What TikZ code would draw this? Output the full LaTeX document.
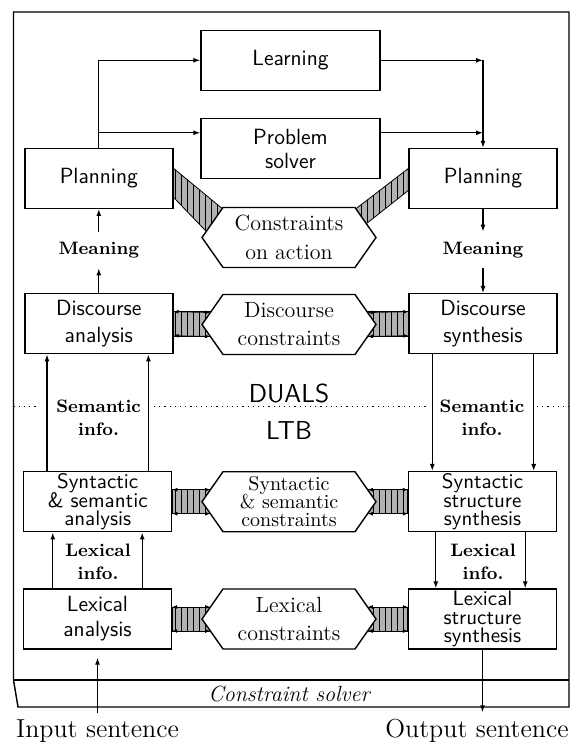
\documentclass[tikz,border=0pt]{standalone}
\usepackage{xcolor}
\usepackage{tikz}
\usetikzlibrary{arrows.meta, positioning, calc, backgrounds, patterns, shapes.symbols}

\newcommand\tightlines{\lineskiplimit=-5pt\relax}

\tikzset{
    module/.style={draw, line width=0.7pt, minimum width=74pt, minimum height=30pt,
          align=center, inner sep=1pt, font=\sffamily\fontsize{11}{13.5}\selectfont},
    constraintbox/.style={draw, line width=0.7pt, fill=white, signal, signal to=west and east,
          signal pointer angle=110, minimum width=87pt, minimum height=30pt,
          align=center, inner sep=1pt, font=\fontsize{11}{14.5}\selectfont},
    flow/.style={-{Latex[length=3.5pt,width=2.5pt]}, line width=0.6pt},
    infolabel/.style={align=center, inner xsep=2pt, inner ysep=5pt,
          font=\bfseries\fontsize{9}{11.5}\selectfont},
    band/.style={preaction={fill=black!30}, pattern=vertical lines, draw, line width=0.4pt},
    bandtip/.style={{Latex[length=2.5pt,width=2pt]}-{Latex[length=2.5pt,width=2pt]}, line width=0.4pt},
}

\begin{document}
\begin{tikzpicture}[x=0.5pt, y=-0.5pt]
    \useasboundingbox (0,0) rectangle (573,742);

    % outer frame with the constraint solver slab
    \draw[line width=0.7pt] (13.5,680) -- (13.5,12) -- (569,12) -- (569,707) -- (18,707) -- cycle;
    \draw[line width=1.2pt] (13.5,680) -- (569,680);
    \node[font=\itshape\fontsize{11}{13}\selectfont] (csolver) at (289,694) {Constraint solver};

    % modules
    \node[module, minimum width=89.5pt] (learning) at (290.5,60.3) {Learning};
    \node[module, minimum width=89.5pt, font=\sffamily\fontsize{11}{12}\selectfont] (solver) at (290.5,148.5) {Problem\\solver};
    \node[module] (planL) at (98.8,178.3) {Planning};
    \node[module] (planR) at (483,178.5) {Planning};
    \node[constraintbox] (action) at (289,237.5) {Constraints\\on action};

    \node[module] (discA) at (98.8,323.7) {Discourse\\analysis};
    \node[constraintbox, font=\fontsize{11}{14}\selectfont] (discC) at (289,324.5) {Discourse\\constraints};
    \node[module] (discS) at (483,323.7) {Discourse\\synthesis};

    \node[module, font={\sffamily\fontsize{10.5}{9.2}\selectfont\tightlines}] (synA) at (97.7,501.7) {Syntactic\\\&~semantic\\analysis};
    \node[constraintbox, font={\fontsize{10}{9}\selectfont\tightlines}] (synC) at (289,501.7) {Syntactic\\\&~semantic\\constraints};
    \node[module, font={\sffamily\fontsize{10.5}{9.2}\selectfont\tightlines}] (synS) at (482.5,501.7) {Syntactic\\structure\\synthesis};

    \node[module, font=\sffamily\fontsize{11}{12.5}\selectfont] (lexA) at (97.5,619) {Lexical\\analysis};
    \node[constraintbox, font=\fontsize{11}{14}\selectfont] (lexC) at (289,619) {Lexical\\constraints};
    \node[module, font={\sffamily\fontsize{10.5}{9.2}\selectfont\tightlines}] (lexS) at (482.5,619) {Lexical\\structure\\synthesis};

    % labels
    \node[infolabel] (meanL) at (98.8,250) {Meaning};
    \node[infolabel] (meanR) at (483,250) {Meaning};
    \node[infolabel, inner ysep=1pt] (semL) at (98.6,418) {Semantic\\info.};
    \node[infolabel, inner ysep=1pt] (semR) at (482,418) {Semantic\\info.};
    \node[infolabel, inner ysep=1pt] (lexL) at (98,562) {Lexical\\info.};
    \node[infolabel, inner ysep=1pt] (lexR) at (483,562) {Lexical\\info.};
    \node[font=\sffamily\fontsize{13}{15}\selectfont] (duals) at (289,393) {DUALS};
    \node[font=\sffamily\fontsize{13}{15}\selectfont] (ltb) at (289,430) {LTB};
    \node[font=\fontsize{13}{15}\selectfont] (input) at (97.5,731) {Input sentence};
    \node[font=\fontsize{13}{15}\selectfont] (output) at (477,731) {Output sentence};

    % DUALS / LTB border
    \draw[dotted, line width=0.6pt] (13.5,406.7) -- (36,406.7);
    \draw[dotted, line width=0.6pt] (154,406.7) -- (428,406.7);
    \draw[dotted, line width=0.6pt] (537,406.7) -- (569,406.7);

    % top loop
    \draw[flow] (planL.north) |- (learning.west);
    \draw[flow] (planL.north) |- ([yshift=-7.5pt]solver.north west);
    \draw[flow] (learning.east) -- (learning.east -| planR.north);
    \draw[flow] ([yshift=-7.5pt]solver.north east) -- ([yshift=-7.5pt]solver.north east -| planR.north);
    \draw[flow] (learning.east -| planR.north) -- (planR.north);

    % meaning
    \draw[flow] (discA.north) -- (meanL);
    \draw[flow] (meanL) -- (planL.south);
    \draw[flow] (planR.south) -- (meanR);
    \draw[flow] (meanR) -- (discS.north);

    % semantic info
    \draw[flow] ([xshift=12pt]synA.north west) -- ([xshift=12pt]synA.north west |- discA.south);
    \draw[flow] ([xshift=-12pt]synA.north east) -- ([xshift=-12pt]synA.north east |- discA.south);
    \draw[flow] ([xshift=12pt]discS.south west) -- ([xshift=12pt]discS.south west |- synS.north);
    \draw[flow] ([xshift=-12pt]discS.south east) -- ([xshift=-12pt]discS.south east |- synS.north);

    % lexical info
    \draw[flow] ([xshift=15pt]lexA.north west) -- ([xshift=15pt]lexA.north west |- synA.south);
    \draw[flow] ([xshift=-15pt]lexA.north east) -- ([xshift=-15pt]lexA.north east |- synA.south);
    \draw[flow] ([xshift=14pt]synS.south west) -- ([xshift=14pt]synS.south west |- lexS.north);
    \draw[flow] ([xshift=-16pt]synS.south east) -- ([xshift=-16pt]synS.south east |- lexS.north);

    % sentences in and out
    \draw[flow, shorten >=4pt] (input.north) -- (lexA.south);
    \draw[flow] (lexS.south) -- (lexS.south |- output.north);

    % striped constraint links
    \begin{scope}[on background layer]
        \draw[band] ([shift={(0,-10)}]planL.east) -- ([shift={(0,19)}]planL.east)
            -- ([shift={(-75,2)}]action.center) -- ([shift={(-62,-25)}]action.center) -- cycle;
        \draw[band] ([shift={(0,-10)}]planR.west) -- ([shift={(0,12)}]planR.west)
            -- ([shift={(70,-8)}]action.center) -- ([shift={(62,-25)}]action.center) -- cycle;
        \foreach \mods/\cons/\synt in {discA/discC/discS, synA/synC/synS, lexA/lexC/lexS} {
            \draw[band] ([shift={(0,-12)}]\mods.east) rectangle ([shift={(14,12)}]\cons.west);
            \draw[band] ([shift={(0,-12)}]\synt.west) rectangle ([shift={(-14,12)}]\cons.east);
            \draw[bandtip] ([shift={(0,-12)}]\mods.east) -- ([shift={(9,-12)}]\cons.west);
            \draw[bandtip] ([shift={(0,12)}]\mods.east) -- ([shift={(9,12)}]\cons.west);
            \draw[bandtip] ([shift={(0,-12)}]\synt.west) -- ([shift={(-9,-12)}]\cons.east);
            \draw[bandtip] ([shift={(0,12)}]\synt.west) -- ([shift={(-9,12)}]\cons.east);
        }
    \end{scope}
\end{tikzpicture}
\end{document}
